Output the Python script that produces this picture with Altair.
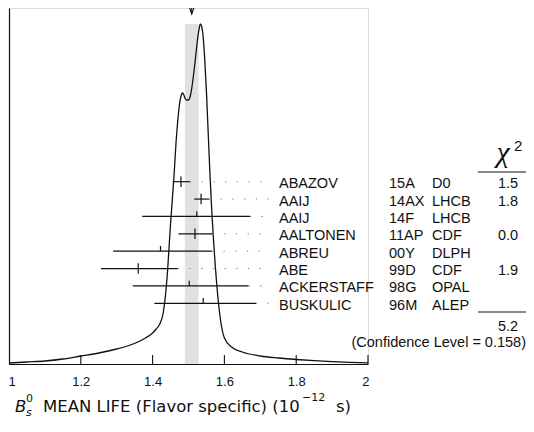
import altair as alt
import pandas as pd

# ---------------- data ----------------
# ideogram curve (x in 10^-12 s, height in plot units)
curve_x = [1.00, 1.05, 1.10, 1.15, 1.20, 1.25, 1.30, 1.33, 1.365, 1.38, 1.40, 1.41,
           1.42, 1.43, 1.44, 1.45, 1.455, 1.46, 1.465, 1.47, 1.475, 1.48, 1.483,
           1.487, 1.49, 1.495, 1.50, 1.505, 1.51, 1.515, 1.52, 1.525, 1.53, 1.533,
           1.537, 1.54, 1.545, 1.55, 1.555, 1.56, 1.565, 1.57, 1.575, 1.58, 1.585,
           1.59, 1.60, 1.62, 1.65, 1.70, 1.75, 1.80, 1.85, 1.90, 1.95, 2.00]
curve_h = [1.0, 2.0, 3.0, 5.0, 8.0, 11.0, 15.0, 18.0, 23.0, 26.0, 31.0, 35.0,
           40.0, 52.0, 85.0, 140.0, 165.0, 190.0, 220.0, 243.0, 260.0, 269.0, 271.0,
           269.0, 266.0, 264.0, 264.0, 268.0, 278.0, 292.0, 308.0, 324.0, 336.0, 340.0,
           337.0, 330.0, 306.0, 272.0, 230.0, 188.0, 152.0, 122.0, 96.0, 74.0, 56.0,
           42.0, 26.0, 17.0, 12.0, 8.0, 6.0, 4.5, 3.3, 2.4, 1.7, 1.2]

names = ["ABAZOV", "AAIJ", "AAIJ", "AALTONEN", "ABREU", "ABE", "ACKERSTAFF", "BUSKULIC"]
codes = ["15A", "14AX", "14F", "11AP", "00Y", "99D", "98G", "96M"]
experiments = ["D0", "LHCB", "LHCB", "CDF", "DLPH", "CDF", "OPAL", "ALEP"]
chi2 = ["1.5", "1.8", "", "0.0", "", "1.9", "", ""]
values = [1.479, 1.535, 1.523, 1.518, 1.422, 1.360, 1.502, 1.541]
err_lo = [1.456, 1.516, 1.371, 1.472, 1.290, 1.256, 1.345, 1.405]
err_hi = [1.504, 1.557, 1.671, 1.567, 1.565, 1.470, 1.667, 1.688]
used = [True, True, False, True, False, True, False, False]

avg_value = [1.509]
band_lo = [1.490]
band_hi = [1.528]
chi2_total = "5.2"
conf_text = "(Confidence Level = 0.158)"
tick_values = [1.0, 1.2, 1.4, 1.6, 1.8, 2.0]
inner_ticks = [1.2, 1.4, 1.6, 1.8, 2.0]

# ---------------- tables ----------------
curve_df = pd.DataFrame({"x": curve_x, "h": curve_h})
rows_df = pd.DataFrame({
    "name": names, "code": codes, "exp": experiments, "chi2": chi2,
    "val": values, "lo": err_lo, "hi": err_hi, "used": used,
    "row": list(range(len(names))),
})
band_df = pd.DataFrame({"lo": band_lo, "hi": band_hi, "top": [max(curve_h)]})
avg_df = pd.DataFrame({"avg": avg_value})
tick_df = pd.DataFrame({"t": inner_ticks})

SANS = "Liberation Sans"
INK = "#111111"
TXT = 14.5

xscale = alt.Scale(domain=[1, 2], nice=False, zero=False)
hscale = alt.Scale(domain=[0, 356], nice=False, zero=False)
rscale = alt.Scale(domain=[-10.0, 10.495], nice=False, zero=False, reverse=True)

xaxis = alt.Axis(values=tick_values, format="~g", title=None, grid=False, ticks=False,
                 domain=True, domainColor=INK, domainWidth=1.2, labelFont=SANS,
                 labelFontSize=13, labelColor=INK, labelPadding=11, labelFlush=True,
                 labelFlushOffset=1)


def X(field):
    return alt.X(field, type="quantitative", scale=xscale, axis=xaxis)


band = alt.Chart(band_df).transform_calculate(z="0").mark_rect(color="#e1e1e1").encode(
    x=X("lo"), x2="hi",
    y=alt.Y("top:Q", scale=hscale, axis=None), y2="z:Q",
)

curve = alt.Chart(curve_df).mark_line(interpolate="monotone", color=INK, strokeWidth=1.3).encode(
    x=X("x"),
    y=alt.Y("h:Q", scale=hscale,
            axis=alt.Axis(title=None, labels=False, ticks=False, grid=False, domain=True,
                          domainColor=INK, domainWidth=1.2)),
)

ticks = alt.Chart(tick_df).transform_calculate(z="0", tt="9").mark_rule(
    color=INK, strokeWidth=1.1).encode(
    x=X("t"),
    y=alt.Y("z:Q", scale=hscale, axis=None), y2="tt:Q",
)

stem = alt.Chart(avg_df).mark_rule(color=INK, strokeWidth=1.1).encode(
    x=X("avg"), y=alt.value(-8), y2=alt.value(6),
)
head = alt.Chart(avg_df).mark_point(
    shape="M-0.7,-1L0,1L0.7,-1", filled=False, stroke=INK, strokeWidth=1.1, size=100, opacity=1
).encode(x=X("avg"), y=alt.value(1))

rowY = alt.Y("row:Q", scale=rscale, axis=None)

leaders = alt.Chart(rows_df).mark_rule(color="#777777", strokeWidth=1.1, strokeDash=[1.2, 10.5]).encode(
    x=X("hi"), x2=alt.value(261), y=rowY,
)

bars = alt.Chart(rows_df).mark_rule(color=INK, strokeWidth=1.2).encode(
    x=X("lo"), x2="hi", y=rowY,
)

marks = alt.Chart(rows_df).transform_calculate(
    top="datum.row - 0.3", bot="datum.used ? datum.row + 0.3 : datum.row"
).mark_rule(color=INK, strokeWidth=1.2).encode(
    x=X("val"),
    y=alt.Y("top:Q", scale=rscale, axis=None), y2="bot:Q",
)


def col(field, xpix, align="left"):
    return alt.Chart(rows_df).mark_text(
        align=align, baseline="alphabetic", dy=6.5, font=SANS, fontSize=TXT, color=INK
    ).encode(x=alt.value(xpix), y=rowY, text=f"{field}:N")


name_t = col("name", 270)
code_t = col("code", 380)
exp_t = col("exp", 423)
chi_t = col("chi2", 499, "center")


def note(text, xpix, ypix, size=TXT, align="left", font=SANS, style="normal"):
    return alt.Chart(avg_df).mark_text(
        text=text, align=align, baseline="alphabetic", font=font, fontSize=size,
        color=INK, fontStyle=style,
    ).encode(x=alt.value(xpix), y=alt.value(ypix))


chi_head = note("χ", 494, 154, size=30, align="center", font="Liberation Serif", style="italic")
chi_sup = note("2", 505, 143, size=15, align="left")
line_top = alt.Chart(avg_df).mark_rule(color=INK, strokeWidth=1.2).encode(
    x=alt.value(469), x2=alt.value(517), y=alt.value(164))
line_bot = alt.Chart(avg_df).mark_rule(color=INK, strokeWidth=1.2).encode(
    x=alt.value(469), x2=alt.value(517), y=alt.value(304))
total_t = note(chi2_total, 499, 323, align="center")
conf_t = note(conf_text, 517, 339, align="right")

TF = "DejaVu Sans"
t_B = note("B", 6, 404, size=16.5, font=TF, style="italic")
t_0 = note("0", 17, 394, size=11, font=TF)
t_s = note("s", 17, 408, size=11, font=TF, style="italic")
t_main = note("MEAN LIFE (Flavor specific) (10", 34, 404, size=16.5, font=TF)
t_exp = note("−12", 293, 393, size=11, font=TF)
t_end = note("s)", 327, 404, size=16.5, font=TF)

chart = alt.layer(
    band, curve, ticks, stem, head, leaders, bars, marks,
    name_t, code_t, exp_t, chi_t,
    chi_head, chi_sup, line_top, line_bot, total_t, conf_t,
    t_B, t_0, t_s, t_main, t_exp, t_end,
).resolve_scale(y="independent").properties(
    width=359, height=356,
    padding={"left": 1, "top": 0, "right": 158, "bottom": 56},
    autosize=alt.AutoSizeParams(type="none"),
).configure_view(stroke=None).configure(background="white")

chart.save("out.html", embed_options={"renderer": "svg", "actions": False})
